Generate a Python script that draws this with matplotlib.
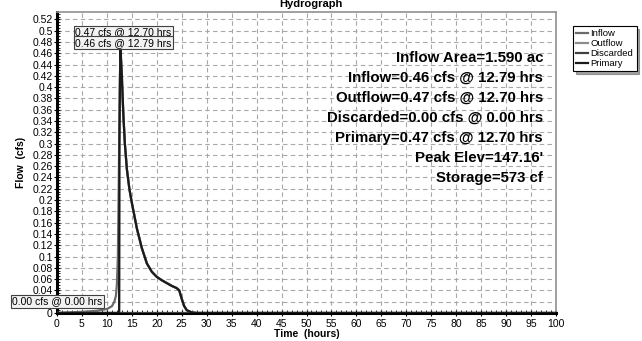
import numpy as np
import matplotlib.pyplot as plt
from matplotlib.ticker import MultipleLocator

plt.rcParams['font.family'] = ['Liberation Sans', 'DejaVu Sans']

# Inflow hydrograph (cfs vs hours)
inflow_t = [0, 2, 5, 8, 10, 11, 11.5, 11.8, 12.0, 12.2, 12.4, 12.6, 12.79, 13.0, 13.3, 13.6, 14.0, 14.5, 15, 16, 17, 18, 19, 20, 21, 22, 23, 24, 24.5, 25, 25.5, 26, 27, 28, 100]
inflow_q = [0, 0.001, 0.002, 0.004, 0.007, 0.012, 0.02, 0.03, 0.05, 0.10, 0.25, 0.42, 0.46, 0.41, 0.35, 0.30, 0.255, 0.22, 0.195, 0.15, 0.115, 0.088, 0.073, 0.064, 0.058, 0.053, 0.048, 0.044, 0.040, 0.025, 0.012, 0.005, 0.001, 0, 0]

# Outflow / Primary hydrograph
outflow_t = [0, 12.45, 12.5, 12.70, 13.0, 13.3, 13.6, 14.0, 14.5, 15, 16, 17, 18, 19, 20, 21, 22, 23, 24, 24.5, 25, 25.5, 26, 27, 28, 100]
outflow_q = [0, 0, 0.30, 0.47, 0.42, 0.35, 0.30, 0.255, 0.22, 0.195, 0.15, 0.115, 0.088, 0.073, 0.064, 0.058, 0.053, 0.048, 0.044, 0.040, 0.025, 0.012, 0.005, 0.001, 0, 0]

# Discarded (zero throughout)
discarded_t = [0, 100]
discarded_q = [0, 0]

summary = [
    "Inflow Area=1.590 ac",
    "Inflow=0.46 cfs @ 12.79 hrs",
    "Outflow=0.47 cfs @ 12.70 hrs",
    "Discarded=0.00 cfs @ 0.00 hrs",
    "Primary=0.47 cfs @ 12.70 hrs",
    "Peak Elev=147.16'",
    "Storage=573 cf",
]

fig = plt.figure(figsize=(6.42, 3.41), dpi=100)
ax = fig.add_axes([57 / 642, 28 / 341, 499 / 642, 301 / 341])

ax.set_xlim(0, 100)
ax.set_ylim(0, 0.533)
ax.xaxis.set_major_locator(MultipleLocator(5))
ax.xaxis.set_minor_locator(MultipleLocator(1))
ax.yaxis.set_major_locator(MultipleLocator(0.02))
ax.yaxis.set_minor_locator(MultipleLocator(0.005))
ax.yaxis.set_major_formatter(plt.FuncFormatter(lambda v, p: "%g" % round(v, 2)))
ax.tick_params(axis='both', which='major', labelsize=7.5, length=4, direction='inout', width=0.8, pad=2)
ax.tick_params(axis='y', which='major', pad=1)
ax.tick_params(axis='both', which='minor', length=2, direction='in', width=0.6)
ax.grid(True, which='major', color='#a8a8a8', linestyle=(0, (4, 3)), linewidth=0.8)

for s in ['top', 'right']:
    ax.spines[s].set_color('#909090')
    ax.spines[s].set_linewidth(1.2)
ax.spines['left'].set_linewidth(2.2)
ax.spines['bottom'].set_linewidth(2.2)

ax.plot(inflow_t, inflow_q, color='#6a6a6a', lw=1.6, label='Inflow', zorder=3)
ax.plot(outflow_t, outflow_q, color='#8c8c8c', lw=1.6, label='Outflow', zorder=4)
ax.plot(discarded_t, discarded_q, color='#404040', lw=1.6, label='Discarded', zorder=4)
ax.plot(outflow_t, outflow_q, color='#1a1a1a', lw=1.6, label='Primary', zorder=5)

box = dict(boxstyle='square,pad=0.15', fc='#f2f2f2', ec='#404040', lw=0.8)
ax.text(13.3, 0.4965, "0.47 cfs @ 12.70 hrs", ha='center', va='center', fontsize=7.5, bbox=box, zorder=6)
ax.text(13.3, 0.4785, "0.46 cfs @ 12.79 hrs", ha='center', va='center', fontsize=7.5, bbox=box, zorder=6)
ax.text(0.1, 0.0205, "0.00 cfs @ 0.00 hrs", ha='center', va='center', fontsize=7.5, bbox=box, zorder=6,
        clip_on=False)

for i, line in enumerate(summary):
    fig.text(543 / 642, 1 - (58 + i * 20) / 341, line, ha='right', va='center',
             fontsize=10.8, fontweight='bold', zorder=7)

ax.set_xlabel("Time  (hours)", fontsize=7.5, fontweight='bold', labelpad=0)
ax.set_ylabel("Flow  (cfs)", fontsize=7.5, fontweight='bold', labelpad=5)
fig.text(311 / 642, 1 - 4 / 341, "Hydrograph", ha='center', va='center', fontsize=8, fontweight='bold')

leg = fig.legend(loc='upper left', bbox_to_anchor=(573 / 642, 1 - 26 / 341), fontsize=6.8,
                 frameon=True, fancybox=False, shadow=True, handlelength=1.2, handletextpad=0.3,
                 borderpad=0.35, labelspacing=0.1, borderaxespad=0)
leg.get_frame().set_edgecolor('black')
leg.get_frame().set_linewidth(0.8)

fig.savefig("out.png", dpi=100)
